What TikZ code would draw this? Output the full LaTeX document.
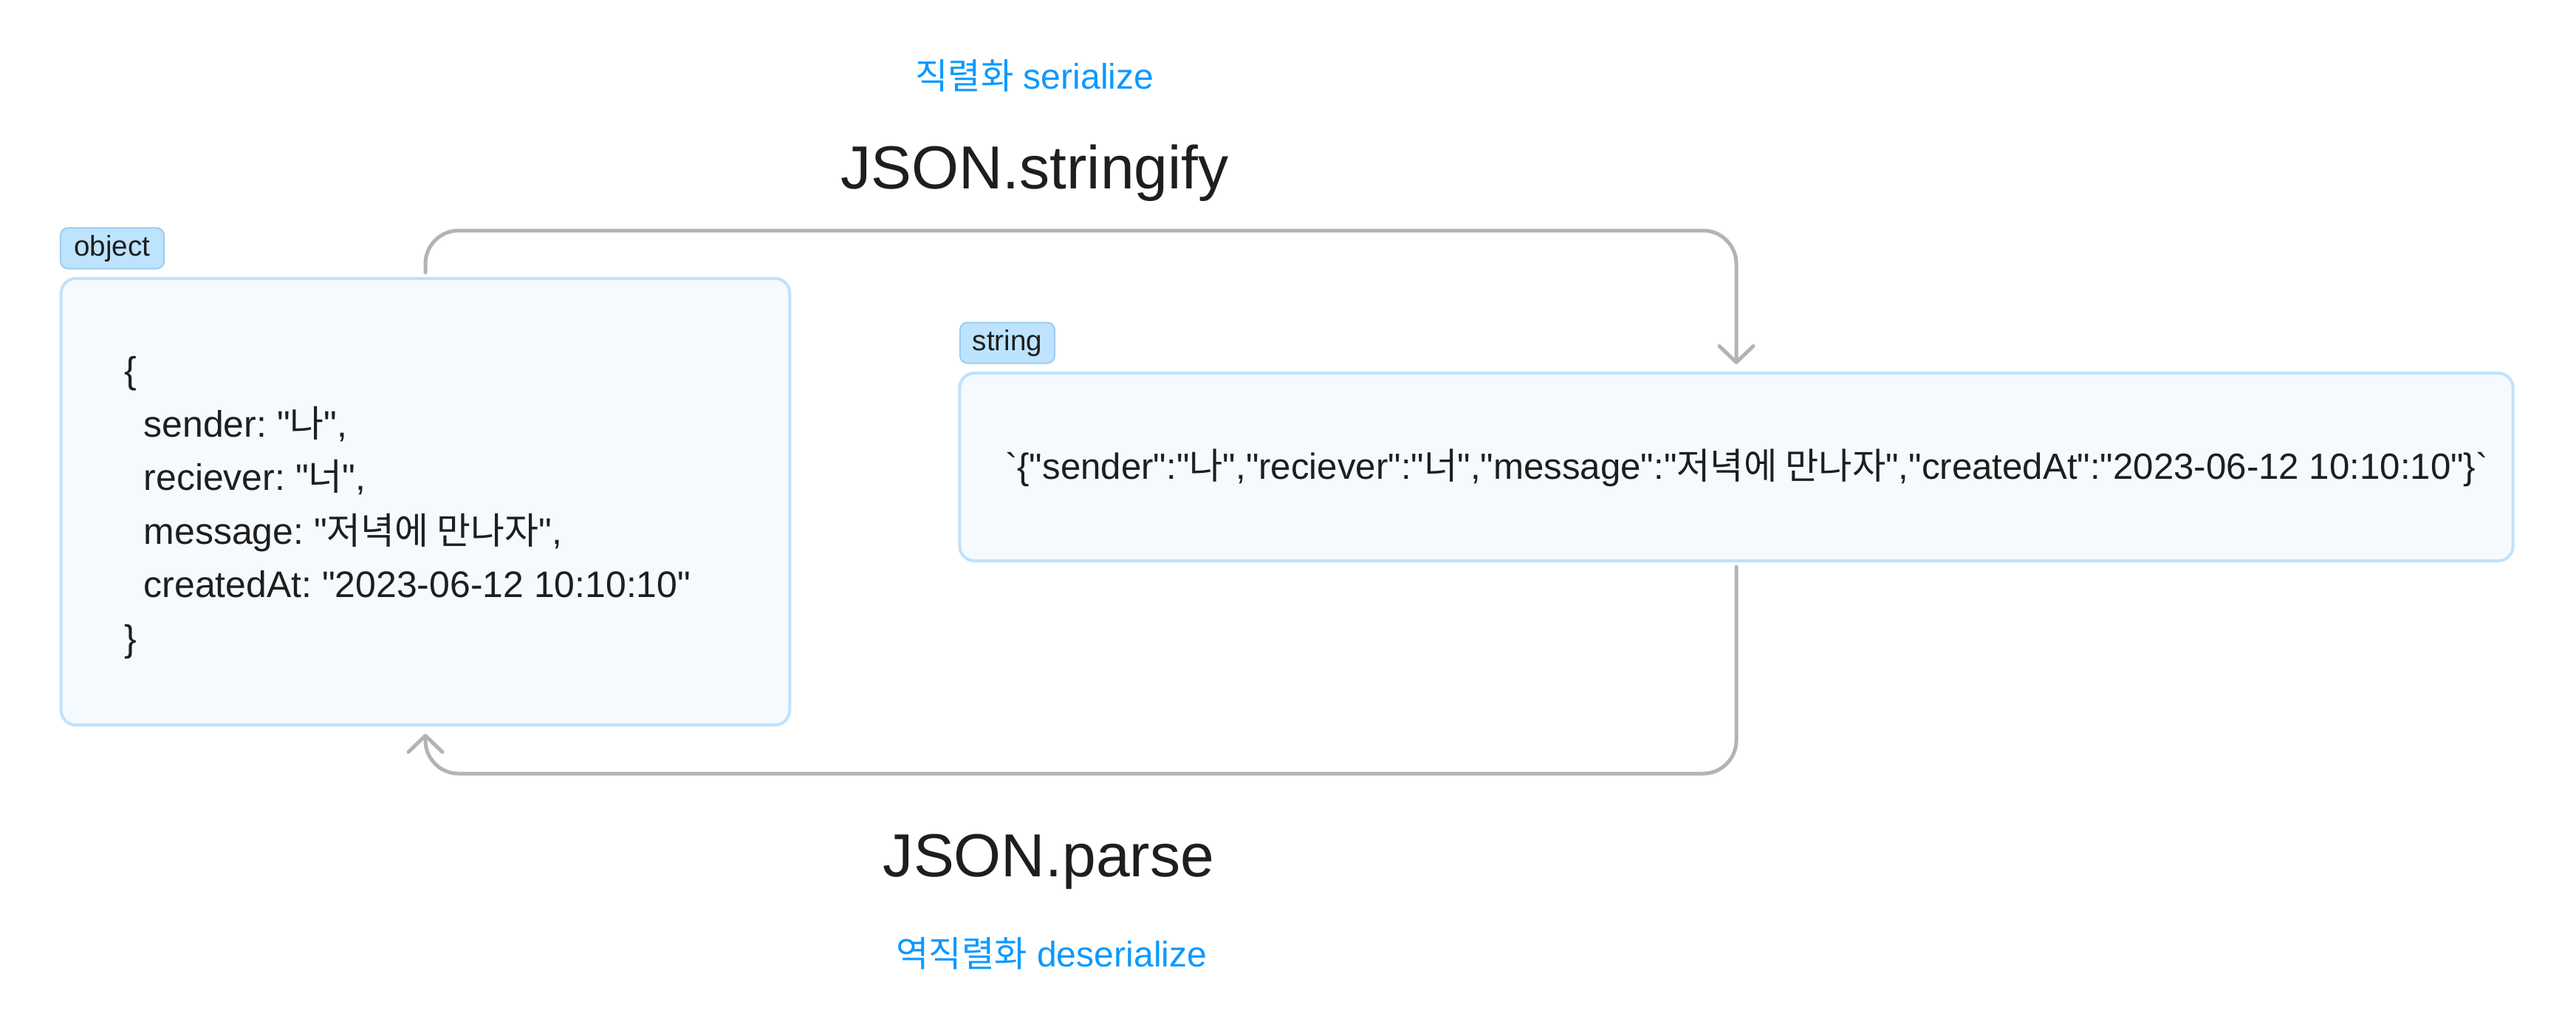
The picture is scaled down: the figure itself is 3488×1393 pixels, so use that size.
\documentclass[tikz,border=0pt]{standalone}
\usepackage{fontspec}
\setmainfont{Liberation Sans}[Ligatures=TeXOff]
\newfontfamily\kr{Noto Sans CJK KR}
\usetikzlibrary{arrows.meta}
\definecolor{ink}{RGB}{30,30,30}
\definecolor{labelblue}{RGB}{13,153,255}
\definecolor{boxline}{RGB}{191,226,252}
\definecolor{boxfill}{RGB}{245,250,255}
\definecolor{tagfill}{RGB}{189,227,255}
\definecolor{tagline}{RGB}{158,204,240}
\definecolor{flowgray}{RGB}{179,179,179}
\frenchspacing

\begin{document}
\begin{tikzpicture}[x=0.01cm, y=-0.01cm,
    typebox/.style={draw=boxline, fill=boxfill, line width=0.04cm, rounded corners=0.2cm, inner sep=0pt},
    typetag/.style={draw=tagline, fill=tagfill, line width=0.02cm, rounded corners=0.1cm, inner sep=0pt,
        minimum height=0.55cm, text=ink, font=\fontsize{11}{13}\selectfont},
    codetext/.style={text=ink, inner sep=0pt, font=\fontsize{14.2}{20.6}\selectfont},
    methodlabel/.style={text=ink, inner sep=0pt, anchor=base, font=\fontsize{23.4}{28}\selectfont},
    notelabel/.style={text=labelblue, inner sep=0pt, font=\fontsize{13.7}{16}\selectfont},
    flow/.style={draw=flowgray, line width=0.05cm, rounded corners=0.45cm, line cap=round,
        -{Straight Barb[length=0.22cm, width=0.46cm, round]}}]

\useasboundingbox (0,0) rectangle (3488,1393);

% the two values
\node[typebox, minimum width=9.86cm, minimum height=6.04cm] (objBox) at (576,679) {};
\node[typetag, minimum width=1.4cm] (objTag) at (152,336) {object};
\node[typebox, minimum width=21.02cm, minimum height=2.54cm] (strBox) at (2351,632) {};
\node[typetag, minimum width=1.28cm] (strTag) at (1364,464) {string};

\node[codetext, anchor=west, align=left] (objText) at (168,687)
    {\{\\
     \hspace*{7.4pt}sender: "{\kr 나}",\\
     \hspace*{7.4pt}reciever: "{\kr 너}",\\
     \hspace*{7.4pt}message: "{\kr 저녁에 만나자}",\\
     \hspace*{7.4pt}createdAt: "2023-06-12 10:10:10"\\
     \}};
\node[codetext, font=\fontsize{14}{20.6}\selectfont] (strText) at (2365,633)
    {`\{"sender":"{\kr 나}","reciever":"{\kr 너}","message":"{\kr 저녁에 만나자}","createdAt":"2023-06-12 10:10:10"\}`};

% labels
\node[notelabel] (serialNote) at (1401,102) {{\kr 직렬화} serialize};
\node[methodlabel] (stringifyLabel) at (1401,255) {JSON.stringify};
\node[methodlabel] (parseLabel) at (1420,1186) {JSON.parse};
\node[notelabel] (deserialNote) at (1424,1290) {{\kr 역직렬화} deserialize};

% lanes of the two arrows
\coordinate (topLane) at (0,312);
\coordinate (bottomLane) at (0,1047);

\draw[flow] ([yshift=0.06cm]objBox.north) -- (objBox.north |- topLane)
    -- (strBox.north |- topLane) -- ([yshift=0.1cm]strBox.north);
\draw[flow] ([yshift=-0.06cm]strBox.south) -- (strBox.south |- bottomLane)
    -- (objBox.south |- bottomLane) -- ([yshift=-0.1cm]objBox.south);

\end{tikzpicture}
\end{document}
